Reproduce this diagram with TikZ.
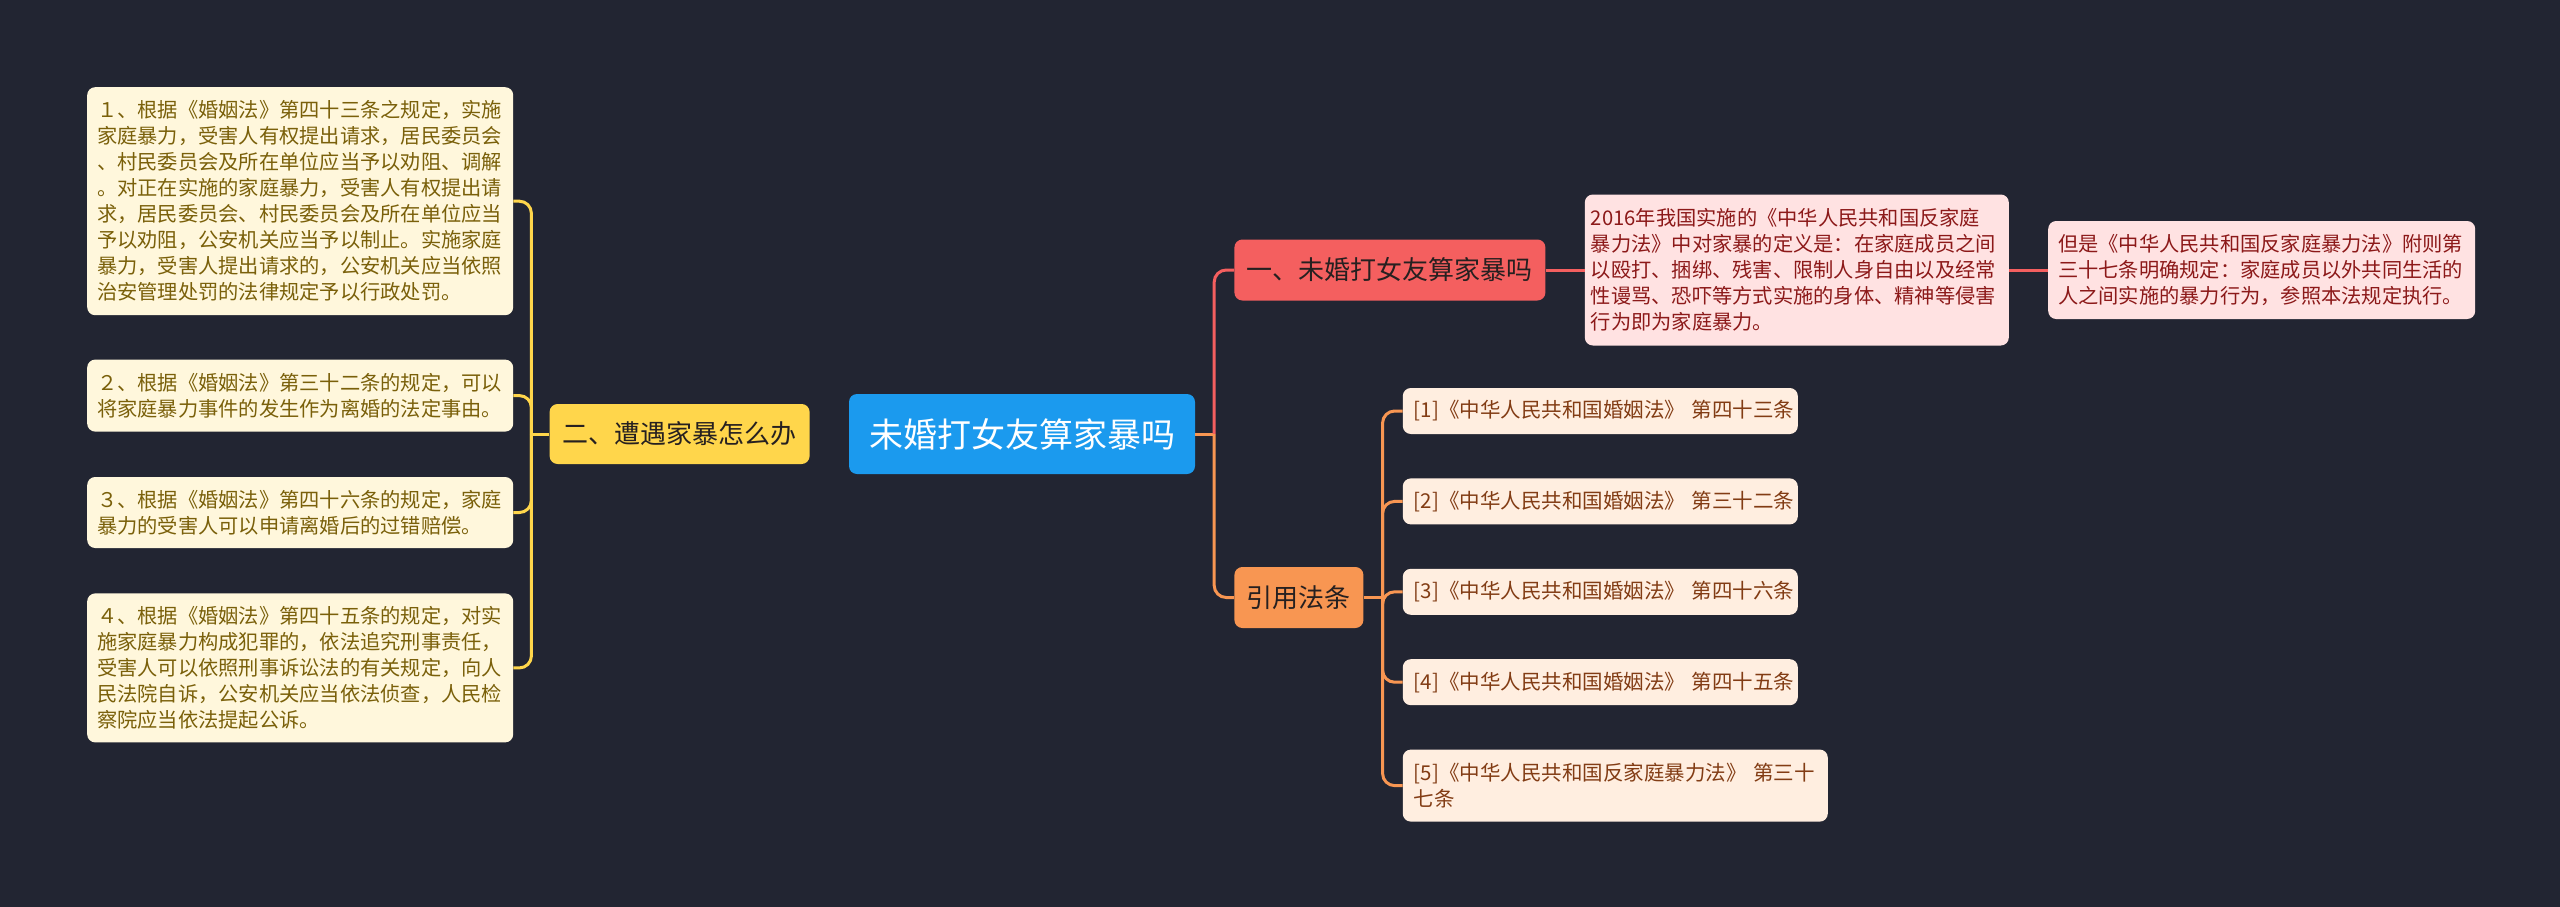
\documentclass[tikz,border=0pt]{standalone}
\usepackage{fontspec}
\setmainfont{Noto Sans CJK SC}
\usetikzlibrary{positioning}
\definecolor{MapBg}{RGB}{34,37,50}
\definecolor{MapBlue}{RGB}{27,154,238}
\definecolor{MapYellow}{RGB}{255,214,75}
\definecolor{MapRed}{RGB}{244,95,95}
\definecolor{MapOrange}{RGB}{248,150,82}
\definecolor{MapCream}{RGB}{255,247,220}
\definecolor{MapPink}{RGB}{255,226,226}
\definecolor{MapPeach}{RGB}{255,238,224}
\definecolor{MapOlive}{RGB}{122,96,10}
\definecolor{MapWine}{RGB}{140,25,25}
\definecolor{MapBrown}{RGB}{130,60,20}
\definecolor{MapInk}{RGB}{38,32,32}
\tikzset{
  map box/.style={
    rounded corners=8pt,
    align=center,
    inner sep=0pt
  },
  map root/.style={map box, fill=MapBlue, text=white, minimum width=346pt, minimum height=80pt, font=\fontsize{34}{40}\selectfont},
  map topic/.style={map box, text=MapInk, minimum height=61pt, font=\fontsize{26}{30}\selectfont},
  map leaf/.style={map box, align=left, text width=406pt, inner xsep=10pt, font=\fontsize{20.25}{26}\selectfont},
  law leaf/.style={map leaf, fill=MapCream, text=MapOlive},
  def leaf/.style={map leaf, fill=MapPink, text=MapWine},
  ref leaf/.style={map leaf, fill=MapPeach, text=MapBrown, text width=373pt, inner xsep=11pt, minimum height=46pt, font=\fontsize{20.5}{26}\selectfont},
  map link/.style={line width=3pt, rounded corners=12pt}
}
\begin{document}
\begin{tikzpicture}[x=1pt, y=-1pt, node distance=44pt and 39pt]
\useasboundingbox[fill=MapBg] (0,0) rectangle (2560,907);
\node[map root] (root) at (1022,434) {未婚打女友算家暴吗};
\node[map topic, fill=MapYellow, minimum width=260pt, minimum height=60pt, left=of root] (yel) {二、遭遇家暴怎么办};
\node[map topic, fill=MapRed, minimum width=311pt, right=of root, yshift=164pt] (c1) {一、未婚打女友算家暴吗};
\node[map topic, fill=MapOrange, minimum width=129pt, right=of root, yshift=-163.5pt] (c2) {引用法条};
\node[law leaf, minimum height=228pt, anchor=north west] (l1) at (87,87) {１、根据《婚姻法》第四十三条之规定，实施\\家庭暴力，受害人有权提出请求，居民委员会\\、村民委员会及所在单位应当予以劝阻、调解\\。对正在实施的家庭暴力，受害人有权提出请\\求，居民委员会、村民委员会及所在单位应当\\予以劝阻，公安机关应当予以制止。实施家庭\\暴力，受害人提出请求的，公安机关应当依照\\治安管理处罚的法律规定予以行政处罚。};
\node[law leaf, minimum height=72pt, below=of l1] (l2) {２、根据《婚姻法》第三十二条的规定，可以\\将家庭暴力事件的发生作为离婚的法定事由。};
\node[law leaf, minimum height=71pt, below=45pt of l2] (l3) {３、根据《婚姻法》第四十六条的规定，家庭\\暴力的受害人可以申请离婚后的过错赔偿。};
\node[law leaf, minimum height=149pt, below=45pt of l3] (l4) {４、根据《婚姻法》第四十五条的规定，对实\\施家庭暴力构成犯罪的，依法追究刑事责任，\\受害人可以依照刑事诉讼法的有关规定，向人\\民法院自诉，公安机关应当依法侦查，人民检\\察院应当依法提起公诉。};
\node[def leaf, text width=412pt, inner xsep=6pt, minimum height=151pt, right=of c1] (def) {2016年我国实施的《中华人民共和国反家庭\\暴力法》中对家暴的定义是：在家庭成员之间\\以殴打、捆绑、残害、限制人身自由以及经常\\性谩骂、恐吓等方式实施的身体、精神等侵害\\行为即为家庭暴力。};
\node[def leaf, text width=407pt, minimum height=98pt, right=of def] (but) {但是《中华人民共和国反家庭暴力法》附则第\\三十七条明确规定：家庭成员以外共同生活的\\人之间实施的暴力行为，参照本法规定执行。};
\node[ref leaf, right=of c2, yshift=186.5pt] (r1) {[1]《中华人民共和国婚姻法》~第四十三条};
\node[ref leaf, below=of r1] (r2) {[2]《中华人民共和国婚姻法》~第三十二条};
\node[ref leaf, below=of r2] (r3) {[3]《中华人民共和国婚姻法》~第四十六条};
\node[ref leaf, below=of r3] (r4) {[4]《中华人民共和国婚姻法》~第四十五条};
\node[ref leaf, text width=403pt, minimum height=72pt, below=of r4.south west, anchor=north west] (r5) {[5]《中华人民共和国反家庭暴力法》~第三十\\七条};
\coordinate (lj) at ([xshift=-18pt]yel.west);
\draw[map link, MapYellow] (yel.west) -- (lj);
\foreach \n in {l1,l2,l3,l4}
  \draw[map link, MapYellow] (lj) |- (\n.east);
\coordinate (rj) at ([xshift=19pt]root.east);
\draw[map link, MapOrange] (root.east) -- (rj);
\draw[map link, MapRed] (rj) |- (c1.west);
\draw[map link, MapOrange] (rj) |- (c2.west);
\draw[map link, MapRed] (c1.east) -- (def.west);
\draw[map link, MapRed] (def.east) -- (but.west);
\coordinate (fj) at ([xshift=19pt]c2.east);
\draw[map link, MapOrange] (c2.east) -- (fj);
\foreach \n in {r1,r2,r3,r4,r5}
  \draw[map link, MapOrange] (fj) |- (\n.west);
\end{tikzpicture}
\end{document}
